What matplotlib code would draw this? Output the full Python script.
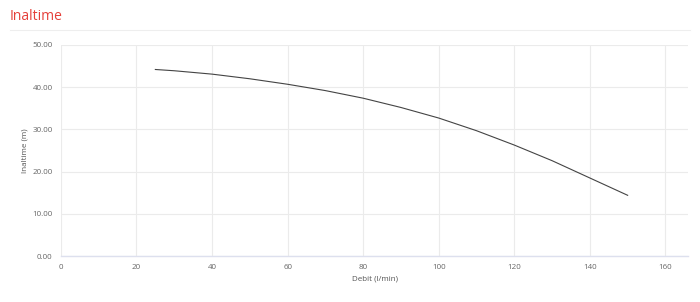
import matplotlib
matplotlib.use("Agg")
import matplotlib.pyplot as plt
from matplotlib.lines import Line2D

plt.rcParams['font.family'] = ['Open Sans', 'DejaVu Sans']

# pump curve: flow (l/min) vs head (m)
debit = [25, 30, 40, 50, 60, 70, 80, 90, 100, 110, 120, 130, 140, 150]
inaltime = [44.2, 43.9, 43.1, 42.0, 40.7, 39.2, 37.4, 35.2, 32.7, 29.7, 26.3, 22.6, 18.5, 14.4]

x_ticks = [0, 20, 40, 60, 80, 100, 120, 140, 160]
y_ticks = [0, 10, 20, 30, 40, 50]

fig = plt.figure(figsize=(7, 3.02), dpi=100)
ax = fig.add_axes([0.087, 0.152, 0.896, 0.699])

ax.plot(debit, inaltime, color='#444444', linewidth=0.8)

ax.set_xlim(0, 166)
ax.set_ylim(0, 50)
ax.set_xticks(x_ticks)
ax.set_yticks(y_ticks)
ax.set_yticklabels([f"{v:.2f}" for v in y_ticks])
ax.grid(True, color='#ebebeb', linewidth=0.8)
ax.set_axisbelow(True)
for s in ['top', 'right', 'left']:
    ax.spines[s].set_visible(False)
ax.spines['bottom'].set_color('#dde0ee')
ax.spines['bottom'].set_linewidth(1)
ax.tick_params(length=0, labelsize=5.8, colors='#666666', pad=6)
ax.set_xlabel("Debit (l/min)", fontsize=5.8, color='#555555', labelpad=3)
ax.set_ylabel("Inaltime (m)", fontsize=5.8, color='#555555', labelpad=3)

fig.text(10 / 700, 1 - 17 / 302, "Inaltime", color='#e5403a', fontsize=10, va='center', ha='left')
fig.add_artist(Line2D([10 / 700, 690 / 700], [1 - 30 / 302, 1 - 30 / 302], color='#eeeeee', linewidth=0.8))

fig.savefig("out.png", dpi=100)
